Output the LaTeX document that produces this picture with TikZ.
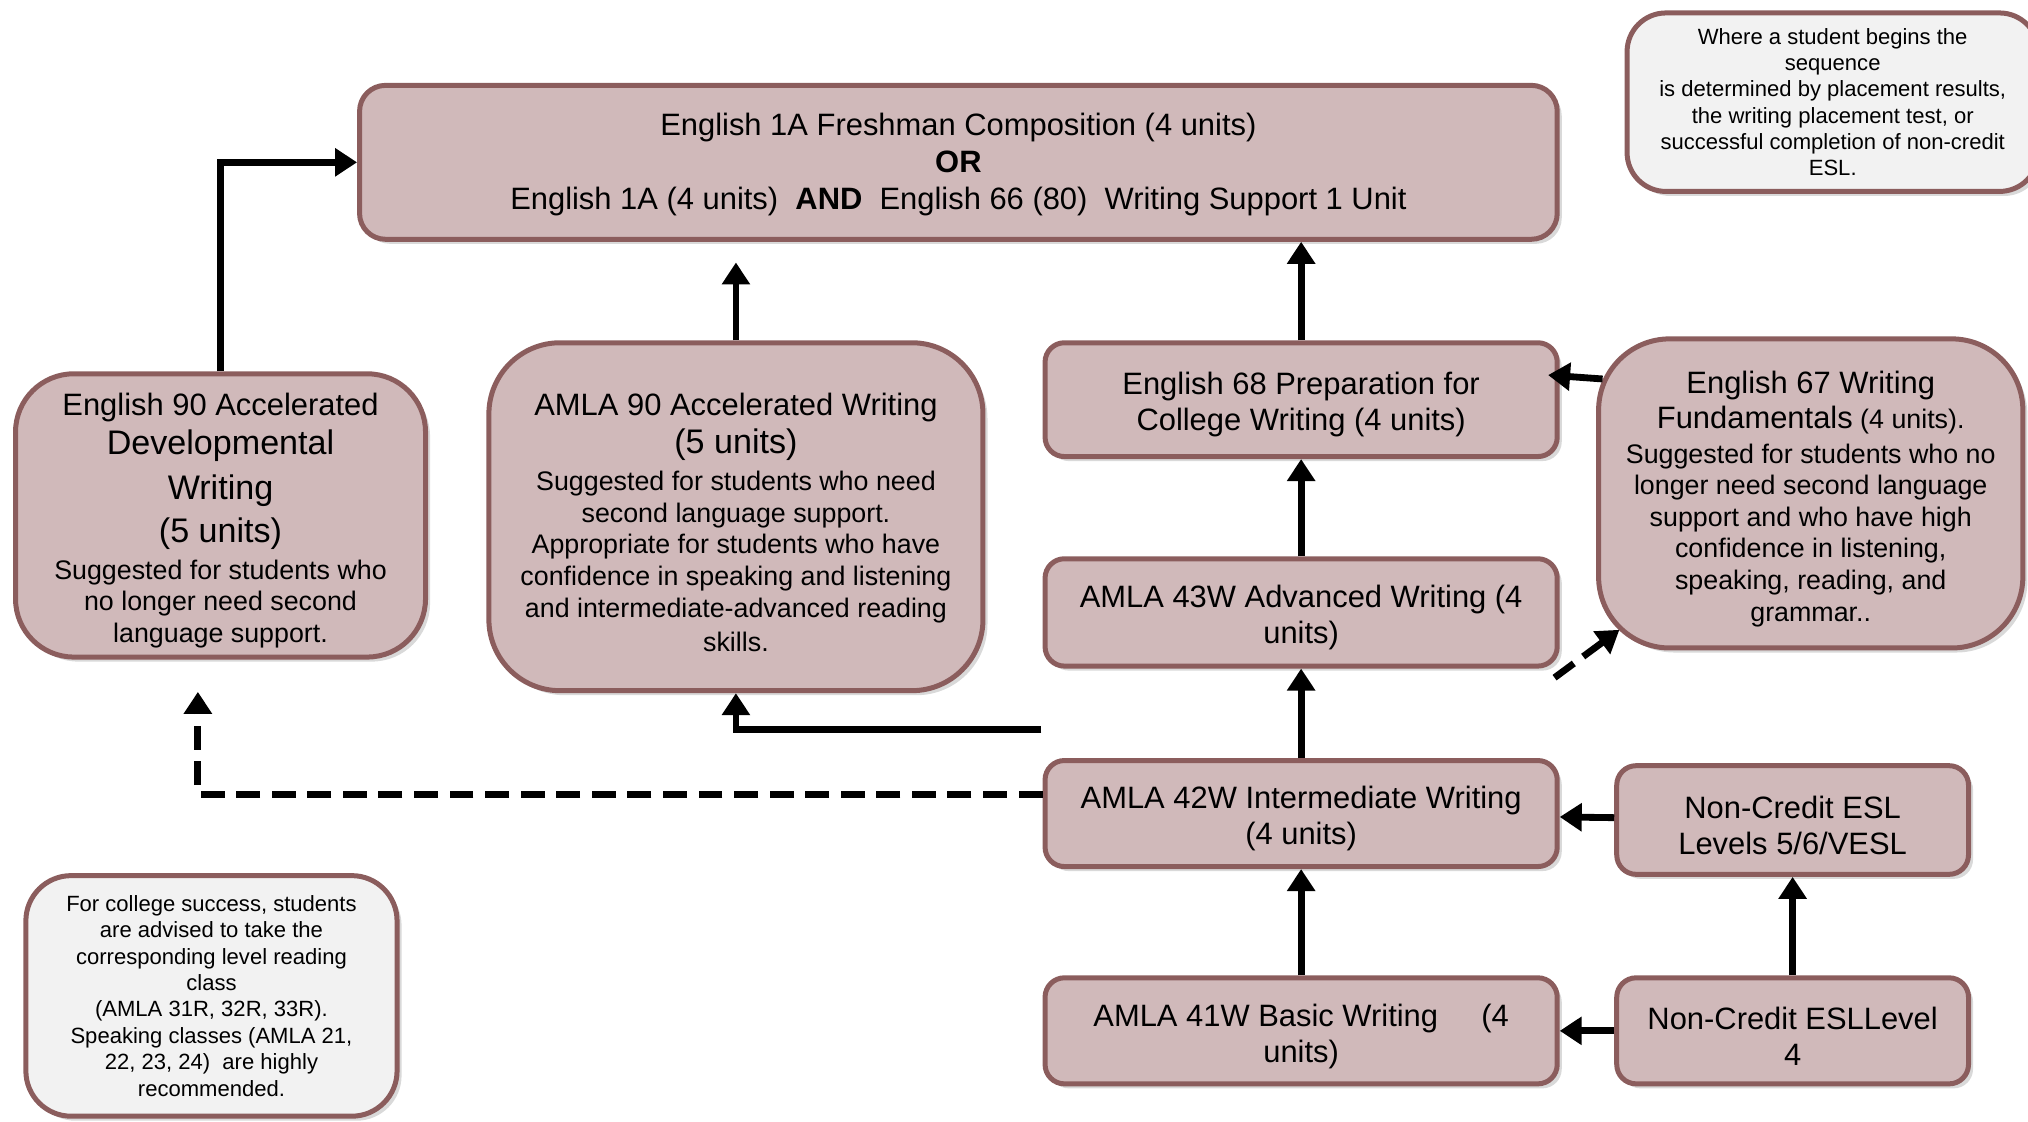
\documentclass[tikz,border=0pt]{standalone}
\usepackage{fontspec}
\setmainfont{Liberation Sans}
\usetikzlibrary{positioning,shadows,arrows.meta}
\definecolor{boxfill}{HTML}{D0B9BA}
\definecolor{boxline}{HTML}{8B5D5D}
\definecolor{notefill}{HTML}{F2F2F2}
\newcommand{\mainsz}{\fontsize{13.6}{15.8}\selectfont}
\newcommand{\bigsz}{\fontsize{15}{18}\selectfont}
\newcommand{\bodysz}{\fontsize{11.8}{13.9}\selectfont}
\newcommand{\notesz}{\fontsize{9.7}{11.6}\selectfont}
\newcommand{\lift}{\rule{0pt}{14.5pt}}% pushes the lines a bit lower in the box
\tikzset{
node distance=3.3cm, % centre to centre, on grid
course/.style={draw=boxline, fill=boxfill, line width=2.2pt, rounded corners=0.3cm,
  align=center, inner sep=0pt, font=\mainsz,
  drop shadow={shadow xshift=0.07cm, shadow yshift=-0.07cm, opacity=0.3}},
remark/.style={course, fill=notefill, font=\notesz},
flow/.style={line width=3pt, -{Triangle[length=0.34cm,width=0.42cm]}},
dashflow/.style={flow, dash pattern=on 0.37cm off 0.18cm},
}

\begin{document}
\begin{tikzpicture}[on grid]
   \useasboundingbox (0,0) rectangle (31.36,-17.34);
   \clip (0,0) rectangle (31.36,-17.34);
   % top course
   \node[course, minimum width=18.52cm, minimum height=2.38cm, rounded corners=0.4cm] (e1a) at (14.82,-2.51)
      {\rule{0pt}{12pt}English 1A Freshman Composition (4 units)\\[0.5pt] \textbf{OR}\\[0.5pt]
       English 1A (4 units)\ \ \textbf{AND}\ \ English 66 (80)\ \ Writing Support 1 Unit};
   \node[remark, minimum width=6.36cm, minimum height=2.76cm, rounded corners=0.6cm] (where) at (28.34,-1.58)
      {Where a student begins the\\ sequence\\ is determined by placement results,\\
       the writing placement test, or\\ successful\ completion of non-credit\\ ESL.};
   % accelerated courses
   \node[course, font=\bodysz, minimum width=6.34cm, minimum height=4.38cm, rounded corners=0.9cm] (e90) at (3.41,-7.97)
      {{\mainsz\lift English 90 Accelerated}\\[3pt] {\bigsz Developmental}\\[5pt] {\bigsz Writing}\\[4pt]
       {\bigsz (5 units)}\\[2pt] Suggested for students who\\ no longer need second\\ language support.};
   \node[course, font=\bodysz, minimum width=7.64cm, minimum height=5.38cm, rounded corners=1.1cm] (amla90) at (11.38,-7.99)
      {{\mainsz\lift AMLA 90 Accelerated Writing}\\[3pt] {\bigsz (5 units)}\\[2.5pt]
       Suggested for students who need\\ second language support.\\ Appropriate for students who have\\
       confidence in speaking and listening\\ and intermediate-advanced reading\\[1pt] skills.};
   % writing sequence
   \node[course, minimum width=7.92cm, minimum height=1.64cm] (a41) at (20.12,-15.94)
      {\lift AMLA 41W Basic Writing\hspace{1.4em}(4\\ units)};
   \node[course, minimum width=7.92cm, minimum height=1.64cm] (a42) [above=3.36cm of a41]
      {\lift AMLA 42W Intermediate Writing\\ (4 units)};
   \node[course, minimum width=7.92cm, minimum height=1.66cm] (a43) [above=3.11cm of a42]
      {\lift AMLA 43W Advanced Writing (4\\ units)};
   \node[course, minimum width=7.92cm, minimum height=1.76cm] (e68) [above=3.29cm of a43]
      {\lift English 68 Preparation for\\ College Writing (4 units)};
   \node[course, font=\bodysz, minimum width=6.56cm, minimum height=4.78cm, rounded corners=1.1cm] (e67) at (28.0,-7.63)
      {{\mainsz\lift English 67 Writing}\\[1.5pt] {\mainsz Fundamentals} (4 units).\\[1.5pt]
       Suggested for students who no\\ longer need second language\\ support and who have high\\
       confidence in listening,\\ speaking, reading, and\\ grammar..};
   % non-credit ESL
   \node[course, minimum width=5.44cm, minimum height=1.64cm] (nc4) [right=7.6cm of a41]
      {\lift Non-Credit ESLLevel\\ 4};
   \node[course, minimum width=5.44cm, minimum height=1.68cm] (nc56) [above=3.26cm of nc4]
      {\lift Non-Credit ESL\\ Levels 5/6/VESL};
   \node[remark, minimum width=5.74cm, minimum height=3.72cm, rounded corners=0.7cm] (note) at (3.27,-15.4)
      {For college success, students\\ are advised to take the\\ corresponding level reading\\ class\\
       (AMLA 31R, 32R, 33R).\\ Speaking classes (AMLA 21,\\ 22, 23, 24)\ \ are highly\\ recommended.};
   % connectors
   \coordinate (tail) at ([shift={(-0.02,1.3)}]a42.west);
   \draw[flow] (e90.north) |- (e1a.west);
   \draw[flow] (amla90.north) -- ([yshift=-0.32cm]amla90.north |- e1a.south);
   \draw[flow] (e68.north) -- (e68.north |- e1a.south);
   \draw[flow] ([shift={(0.1,1.77)}]e67.west) -- ([shift={(-0.18,0.38)}]e68.east);
   \draw[flow] (tail) -| (amla90.south);
   \path[flow]
    (a43) edge (e68)
    (a42) edge (a43)
    (a41) edge (a42)
    (nc4) edge (nc56)
    (nc56) edge (a42)
    (nc4) edge (a41);
   \draw[dashflow] ([yshift=0.3cm]a42.west) -| ([shift={(-0.35,-0.5)}]e90.south);
   \draw[dashflow] ([shift={(-0.08,-0.14)}]a43.south east) -- ([shift={(0.36,0.32)}]e67.south west);
\end{tikzpicture}
\end{document}
